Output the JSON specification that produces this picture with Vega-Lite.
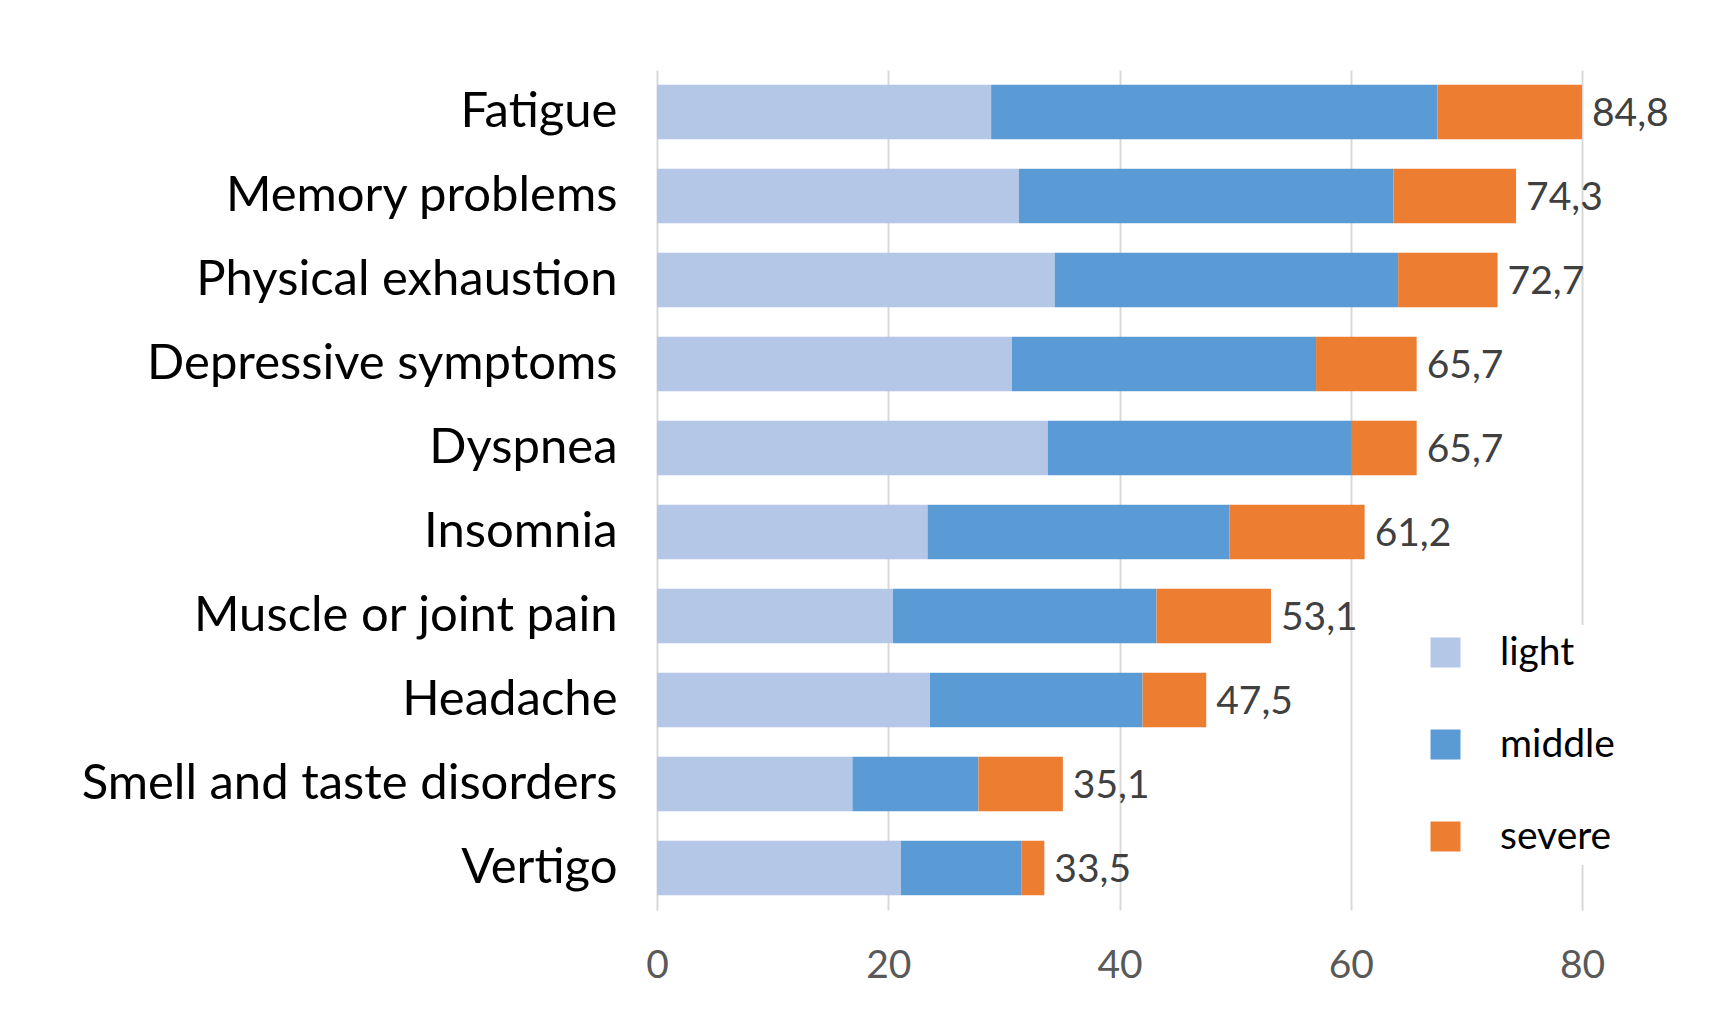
{
  "$schema": "https://vega.github.io/schema/vega-lite/v6.json",
  "autosize": "none",
  "padding": {"left": 657, "top": 70, "right": 127, "bottom": 112},
  "width": 925,
  "height": 840,
  "background": "white",
  "config": {"view": {"stroke": null}, "font": "Lato"},
  "datasets": {
    "segments": [
      {"symptom": "Fatigue", "severity": "light", "ord": 1, "value": 28.9},
      {"symptom": "Fatigue", "severity": "middle", "ord": 2, "value": 38.6},
      {"symptom": "Fatigue", "severity": "severe", "ord": 3, "value": 17.3},
      {"symptom": "Memory problems", "severity": "light", "ord": 1, "value": 31.3},
      {"symptom": "Memory problems", "severity": "middle", "ord": 2, "value": 32.4},
      {"symptom": "Memory problems", "severity": "severe", "ord": 3, "value": 10.6},
      {"symptom": "Physical exhaustion", "severity": "light", "ord": 1, "value": 34.4},
      {"symptom": "Physical exhaustion", "severity": "middle", "ord": 2, "value": 29.7},
      {"symptom": "Physical exhaustion", "severity": "severe", "ord": 3, "value": 8.6},
      {"symptom": "Depressive symptoms", "severity": "light", "ord": 1, "value": 30.7},
      {"symptom": "Depressive symptoms", "severity": "middle", "ord": 2, "value": 26.3},
      {"symptom": "Depressive symptoms", "severity": "severe", "ord": 3, "value": 8.7},
      {"symptom": "Dyspnea", "severity": "light", "ord": 1, "value": 33.8},
      {"symptom": "Dyspnea", "severity": "middle", "ord": 2, "value": 26.3},
      {"symptom": "Dyspnea", "severity": "severe", "ord": 3, "value": 5.6},
      {"symptom": "Insomnia", "severity": "light", "ord": 1, "value": 23.4},
      {"symptom": "Insomnia", "severity": "middle", "ord": 2, "value": 26.1},
      {"symptom": "Insomnia", "severity": "severe", "ord": 3, "value": 11.7},
      {"symptom": "Muscle or joint pain", "severity": "light", "ord": 1, "value": 20.4},
      {"symptom": "Muscle or joint pain", "severity": "middle", "ord": 2, "value": 22.8},
      {"symptom": "Muscle or joint pain", "severity": "severe", "ord": 3, "value": 9.9},
      {"symptom": "Headache", "severity": "light", "ord": 1, "value": 23.6},
      {"symptom": "Headache", "severity": "middle", "ord": 2, "value": 18.4},
      {"symptom": "Headache", "severity": "severe", "ord": 3, "value": 5.5},
      {"symptom": "Smell and taste disorders", "severity": "light", "ord": 1, "value": 16.9},
      {"symptom": "Smell and taste disorders", "severity": "middle", "ord": 2, "value": 10.9},
      {"symptom": "Smell and taste disorders", "severity": "severe", "ord": 3, "value": 7.3},
      {"symptom": "Vertigo", "severity": "light", "ord": 1, "value": 21.1},
      {"symptom": "Vertigo", "severity": "middle", "ord": 2, "value": 10.4},
      {"symptom": "Vertigo", "severity": "severe", "ord": 3, "value": 2.0}
    ],
    "totals": [
      {"symptom": "Fatigue", "total": 84.8, "label": "84,8"},
      {"symptom": "Memory problems", "total": 74.3, "label": "74,3"},
      {"symptom": "Physical exhaustion", "total": 72.7, "label": "72,7"},
      {"symptom": "Depressive symptoms", "total": 65.7, "label": "65,7"},
      {"symptom": "Dyspnea", "total": 65.7, "label": "65,7"},
      {"symptom": "Insomnia", "total": 61.2, "label": "61,2"},
      {"symptom": "Muscle or joint pain", "total": 53.1, "label": "53,1"},
      {"symptom": "Headache", "total": 47.5, "label": "47,5"},
      {"symptom": "Smell and taste disorders", "total": 35.1, "label": "35,1"},
      {"symptom": "Vertigo", "total": 33.5, "label": "33,5"}
    ]
  },
  "encoding": {
    "y": {
      "field": "symptom", "type": "nominal",
      "sort": ["Fatigue", "Memory problems", "Physical exhaustion", "Depressive symptoms", "Dyspnea", "Insomnia", "Muscle or joint pain", "Headache", "Smell and taste disorders", "Vertigo"],
      "scale": {"paddingInner": 0.35, "paddingOuter": 0.175},
      "axis": {"title": null, "domain": false, "ticks": false, "grid": false, "labelFontSize": 49, "labelColor": "#000000", "labelPadding": 40, "labelLimit": 700, "labelFont": "Lato"}
    }
  },
  "layer": [
    {
      "data": {"name": "segments"},
      "mark": {"type": "bar"},
      "encoding": {
        "x": {
          "field": "value", "type": "quantitative", "stack": "zero",
          "scale": {"domain": [0, 80], "clamp": true, "nice": false},
          "axis": {"title": null, "values": [0, 20, 40, 60, 80], "grid": true, "gridColor": "#D9D9D9", "gridWidth": 2, "domain": false, "ticks": false, "labelFlush": false, "labelFontSize": 39, "labelColor": "#595959", "labelPadding": 36, "labelFont": "Lato"}
        },
        "color": {
          "field": "severity", "type": "nominal",
          "scale": {"domain": ["light", "middle", "severe"], "range": ["#B4C7E7", "#5B9BD5", "#ED7D31"]},
          "legend": {
            "title": null, "orient": "none", "legendX": 761, "legendY": 555,
            "symbolType": "square", "symbolSize": 900, "symbolStrokeWidth": 0,
            "labelFontSize": 39, "labelColor": "#000000", "labelFont": "Lato", "labelOffset": 35,
            "rowPadding": 52, "fillColor": "white", "padding": 8
          }
        },
        "order": {"field": "ord", "type": "quantitative"}
      }
    },
    {
      "data": {"name": "totals"},
      "mark": {"type": "text", "align": "left", "baseline": "middle", "dx": 10, "dy": 2, "fontSize": 39, "color": "#404040", "font": "Lato"},
      "encoding": {
        "x": {"field": "total", "type": "quantitative"},
        "text": {"field": "label", "type": "nominal"}
      }
    }
  ]
}
